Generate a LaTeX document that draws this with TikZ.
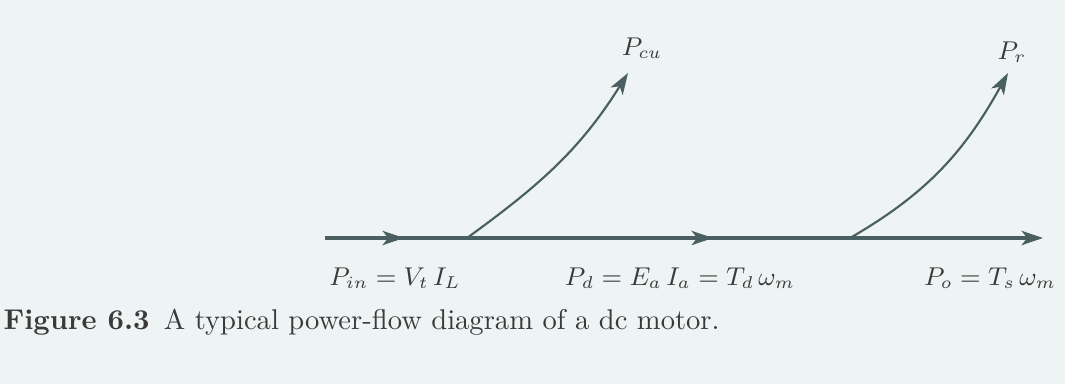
\documentclass[tikz,border=0pt]{standalone}
\usetikzlibrary{arrows.meta}
\definecolor{bgcol}{HTML}{EEF3F3}
\definecolor{flowcol}{HTML}{4A5F5F}
\definecolor{txtcol}{HTML}{3A3A3A}
\tikzset{
  flow/.style={draw=flowcol,line width=1.1pt},
  loss/.style={draw=flowcol,line width=0.75pt},
  tip/.style={-{Stealth[length=7.5pt,width=5pt,inset=2pt]}},
  lbl/.style={text=txtcol,font=\small,inner sep=0pt},
}
\begin{document}
\begin{tikzpicture}[x=0.35pt,y=-0.35pt]
\fill[bgcol] (0,0) rectangle (1065,384);
\useasboundingbox (0,0) rectangle (1065,384);

% points on the main line
\coordinate (in) at (325,238);
\coordinate (m1) at (404,238);
\coordinate (j1) at (467,238);
\coordinate (m2) at (713,238);
\coordinate (j2) at (850,238);
\coordinate (out) at (1043,238);
\coordinate (cuend) at (628,73);
\coordinate (rend) at (1008,73);

\draw[flow,tip] (in) -- (out);
\draw[flow,tip] (in) -- (m1);
\draw[flow,tip] (j1) -- (m2);

\draw[loss,tip] (j1) to[out=36,in=238] (cuend);
\draw[loss,tip] (j2) to[out=30,in=241] (rend);

\node[lbl] (pcu) at (642,48) {$P_{cu}$};
\node[lbl] (pr) at (1012,52) {$P_r$};

\node[lbl] (pin) at (395,278) {$P_{in} = V_t\, I_L$};
\node[lbl] (pd) at (680,278) {$P_d = E_a\, I_a = T_d\, \omega_m$};
\node[lbl] (po) at (990,278) {$P_o = T_s\, \omega_m$};

\node[text=txtcol,anchor=west,inner sep=0pt] (cap) at (3,322)
  {\textbf{Figure 6.3}\enskip A typical power-flow diagram of a dc motor.};
\end{tikzpicture}
\end{document}
